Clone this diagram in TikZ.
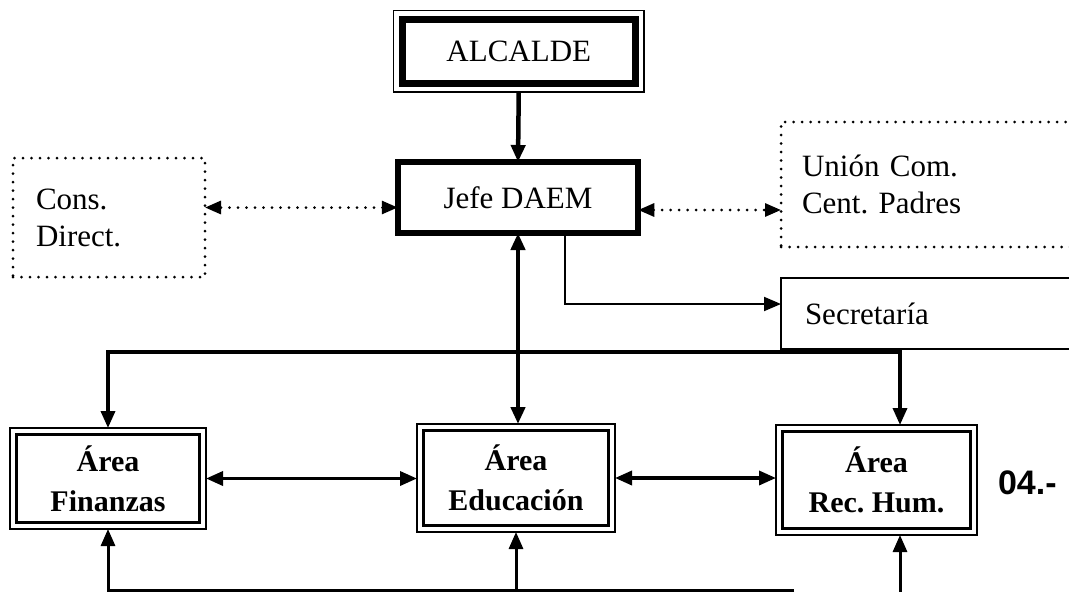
\documentclass[tikz,border=0pt]{standalone}
\usepackage{fontspec}
\setmainfont{Liberation Serif}
\newfontfamily\numFont{Liberation Sans}
\usetikzlibrary{arrows.meta,fit}
\frenchspacing
\newcommand{\chartFont}[0]{\fontsize{31}{37}\selectfont}
\newcommand{\areaFont}[0]{\fontsize{30}{40}\selectfont\bfseries}

\begin{document}
\begin{tikzpicture}[x=1pt, y=-1pt]
  \tikzset{
    every node/.style={outer sep=0pt, inner sep=0pt, font=\chartFont},
    headbox/.style={draw, line width=7pt, minimum width=233.5pt, minimum height=64.5pt},
    chiefbox/.style={draw, line width=6pt, minimum width=240.5pt, minimum height=71pt},
    dotbox/.style={draw, line width=3pt, dash pattern=on 0pt off 8.5pt, line cap=round, align=left},
    thinbox/.style={draw, line width=1.5pt, align=left},
    areabox/.style={draw, line width=3pt, align=center, font=\areaFont},
    outerframe/.style={draw, line width=1.5pt, fit=#1, inner sep=6.5pt},
    solidarrow/.style={line width=#1, -{Triangle[length=17pt,width=14pt]}},
    dblarrow/.style={line width=#1, {Triangle[length=17pt,width=14pt]}-{Triangle[length=17pt,width=14pt]}},
    dotarrow/.style={line width=3pt, dash pattern=on 0pt off 8.5pt, line cap=round,
      {Triangle[length=16pt,width=13pt]}-{Triangle[length=16pt,width=13pt]}}
  }
  \useasboundingbox (0,0) rectangle (1069,592);
  \clip (0,0) rectangle (1069,592);

  % top of the chart
  \node[headbox] (alcalde) at (518.75,51.25) {ALCALDE};
  \node[outerframe=(alcalde), inner sep=8.5pt] (alcalde-frame) {};
  \node[chiefbox] (jefe) at (518,197.5) {Jefe DAEM};
  \node[dotbox, text width=146pt, inner xsep=23pt, minimum height=119pt] (cons) at (109,217.5) {Cons.\\Direct.};
  \node[dotbox, text width=297pt, inner xsep=21pt, minimum height=125pt] (union) at (950.5,184.5) {Unión Com.\\Cent. Padres};
  \node[thinbox, text width=291pt, inner xsep=24pt, minimum height=71pt] (secre) at (950.5,313.5) {Secretaría};

  % areas
  \node[areabox, minimum width=183pt, minimum height=88pt] (fin) at (108,478.5) {Área\\Finanzas};
  \node[areabox, minimum width=185pt, minimum height=95pt] (edu) at (516,478) {Área\\Educación};
  \node[areabox, minimum width=188pt, minimum height=97pt] (rh) at (876.5,480) {Área\\Rec. Hum.};
  \foreach \n in {fin,edu,rh}
    \node[outerframe=(\n)] (\n-frame) {};
  \node[font=\numFont\fontsize{34}{40}\selectfont\bfseries, anchor=base west] (num) at (998,494) {04.-};

  % connectors
  \draw[solidarrow=4.5pt] (alcalde-frame.south) -- (jefe.north);
  \draw[dotarrow] ([yshift=-10pt]jefe.west) -- ([yshift=-10pt]jefe.west -| cons.east);
  \draw[dotarrow] ([yshift=-12.5pt]jefe.east) -- ([yshift=-12.5pt]jefe.east -| union.west);
  \draw[solidarrow=2pt] ([xshift=47pt]jefe.south) |- ([yshift=9.5pt]secre.west);
  \draw[dblarrow=4.5pt] (jefe.south) -- (jefe.south |- edu-frame.north);

  \coordinate (busW) at (108,352);
  \coordinate (busE) at (900,352);
  \draw[dblarrow=3.5pt] (busE |- rh-frame.north) -- (busE) -- (busW) -- (busW |- fin-frame.north);
  \draw[dblarrow=3.5pt] (fin-frame.east) -- (fin-frame.east -| edu-frame.west);
  \draw[dblarrow=3.5pt] (edu-frame.east) -- (edu-frame.east -| rh-frame.west);

  \coordinate (botW) at (108,590);
  \coordinate (botE) at (794,590);
  \coordinate (botR) at (900,600);
  \draw[solidarrow=3pt] (botE) -- (botW) -- (botW |- fin-frame.south);
  \draw[solidarrow=3pt] (edu-frame.south |- botW) -- (edu-frame.south);
  \draw[solidarrow=3pt] (botR) -- (botR |- rh-frame.south);
\end{tikzpicture}
\end{document}
